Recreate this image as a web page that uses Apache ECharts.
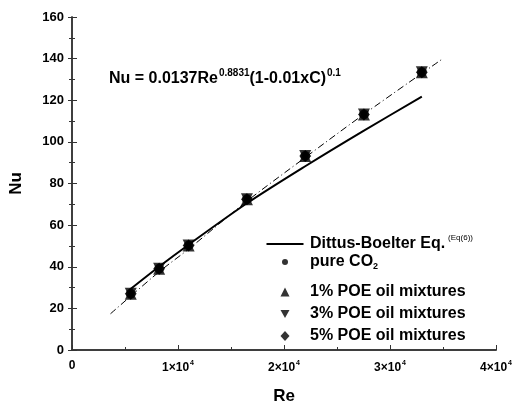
<!DOCTYPE html>
<html>
<head>
<meta charset="UTF-8">
<title>Nu vs Re</title>
<style>
  html, body { margin: 0; padding: 0; background: #fff; }
  #chart { width: 515px; height: 410px; }
</style>
<script src="https://cdn.jsdelivr.net/npm/echarts@6/dist/echarts.min.js"></script>
</head>
<body>
<div id="chart"></div>
<script>
// measured points (the four series overlap on the picture)
var expRe = [5540, 8220, 11000, 16500, 22000, 27540, 33000];
var nuPure = [27.0, 39.0, 50.2, 72.4, 93.2, 113.2, 133.4];
var nu1 = [27.0, 39.0, 50.2, 72.4, 93.2, 113.2, 133.4];
var nu3 = [27.0, 39.0, 50.2, 72.4, 93.2, 113.2, 133.4];
var nu5 = [27.0, 39.0, 50.2, 72.4, 93.2, 113.2, 133.4];

// Dittus-Boelter Eq. (6), solid line
var dbRe = [5400, 8200, 11000, 16500, 22000, 27500, 33000];
var dbNu = [28.8, 40.0, 50.6, 70.5, 88.3, 105.3, 121.7];

// correlation, dash-dot line
var fitRe = [3630, 8200, 11000, 16500, 22000, 27540, 34900];
var fitNu = [17.4, 37.5, 48.5, 71.5, 92.5, 113.3, 139.7];

var xTicks = [0, 10000, 20000, 30000, 40000];
var yTicks = [0, 20, 40, 60, 80, 100, 120, 140, 160];

var names = ['Dittus-Boelter Eq.', 'pure CO2', '1% POE oil mixtures', '3% POE oil mixtures', '5% POE oil mixtures'];

function pairs(xs, ys) {
  return xs.map(function (x, i) { return [x, ys[i]]; });
}

var font = 'Liberation Sans, Arial, sans-serif';
var ink = '#000';
var axisLine = { show: true, lineStyle: { color: '#333', width: 1.5 } };

var chart = echarts.init(document.getElementById('chart'));

function legendText(name) {
  if (name === names[0]) return '{t|Dittus-Boelter Eq.}{sup|(Eq(6))}';
  if (name === names[1]) return '{t|pure CO}{sub|2}';
  return '{t|' + name + '}';
}
// one legend per row so each row sits where it does on the picture;
// icons are centred on x=285 and the texts start at x=310
function oneLegend(name, icon, w, h, top) {
  return {
    data: [{ name: name, icon: icon }],
    left: 285 - w / 2, top: top, padding: 0,
    itemWidth: w, itemHeight: h,
    selectedMode: false,
    formatter: legendText,
    textStyle: {
      rich: {
        t: { fontSize: 16, fontWeight: 'bold', fontFamily: font, color: ink, padding: [0, 0, 0, 20 - w / 2] },
        sup: { fontSize: 8, fontFamily: font, color: ink, padding: [0, 0, 12, 3] },
        sub: { fontSize: 9, fontWeight: 'bold', fontFamily: font, color: ink, padding: [10, 0, 0, 0] }
      }
    }
  };
}

var option = {
  animation: false,
  grid: { left: 65, right: 17, top: 17, bottom: 57 },
  title: {
    text: '{m|Nu = 0.0137Re}{s|0.8831}{m|(1-0.01xC)}{s|0.1}',
    left: 104, top: 63,
    textStyle: {
      rich: {
        m: { fontSize: 16, fontWeight: 'bold', fontFamily: font, color: ink },
        s: { fontSize: 10, fontFamily: font, color: ink, padding: [0, 0, 12, 1] }
      }
    }
  },
  legend: [
    oneLegend(names[0], 'path://M0,0H37V2H0Z', 37, 2, 234),
    oneLegend(names[1], 'circle', 6, 6, 254),
    oneLegend(names[2], 'triangle', 9, 9, 284),
    oneLegend(names[3], 'path://M0,0L10,0L5,9Z', 9, 9, 306),
    oneLegend(names[4], 'diamond', 9, 10, 328)
  ],
  xAxis: [{
    type: 'value', min: xTicks[0], max: xTicks[xTicks.length - 1], interval: 10000,
    name: 'Re', nameLocation: 'middle', nameGap: 38,
    nameTextStyle: { fontSize: 17, fontWeight: 'bold', fontFamily: font, color: ink },
    axisLine: axisLine,
    axisTick: { inside: true, length: 5, lineStyle: { color: '#333' } },
    minorTick: { show: true, splitNumber: 2, length: 3, lineStyle: { color: '#333' } },
    splitLine: { show: false },
    axisLabel: {
      margin: 10,
      formatter: function (v) {
        return v === 0 ? '{m|0}' : '{m|' + (v / 10000) + '×10}{s|4}';
      },
      rich: {
        m: { fontSize: 12, fontWeight: 'bold', fontFamily: font, color: ink },
        s: { fontSize: 7, fontWeight: 'bold', fontFamily: font, color: ink, padding: [0, 0, 8, 1] }
      }
    }
  }, {
    type: 'value', position: 'top', min: xTicks[0], max: xTicks[xTicks.length - 1], interval: 10000,
    axisLine: axisLine, axisTick: { show: false }, axisLabel: { show: false }, splitLine: { show: false }
  }],
  yAxis: [{
    type: 'value', min: yTicks[0], max: yTicks[yTicks.length - 1], interval: 20,
    name: 'Nu', nameLocation: 'middle', nameGap: 47,
    nameTextStyle: { fontSize: 17, fontWeight: 'bold', fontFamily: font, color: ink },
    axisLine: axisLine,
    axisTick: { inside: true, length: 5, lineStyle: { color: '#333' } },
    minorTick: { show: true, splitNumber: 2, length: 3, lineStyle: { color: '#333' } },
    splitLine: { show: false },
    axisLabel: { margin: 8, fontSize: 13, fontWeight: 'bold', fontFamily: font, color: ink }
  }, {
    type: 'value', position: 'right', min: yTicks[0], max: yTicks[yTicks.length - 1], interval: 20,
    axisLine: axisLine,
    axisTick: { inside: true, length: 4, lineStyle: { color: '#333' } },
    minorTick: { show: true, splitNumber: 2, length: 3, lineStyle: { color: '#333' } },
    axisLabel: { show: false }, splitLine: { show: false }
  }],
  series: [
    {
      name: names[0], type: 'line', data: pairs(dbRe, dbNu), symbol: 'none', smooth: 0.3,
      lineStyle: { color: ink, width: 2 }, itemStyle: { color: ink }
    },
    {
      name: 'fit', type: 'line', data: pairs(fitRe, fitNu), symbol: 'none', smooth: 0.3,
      lineStyle: { color: ink, width: 1, type: [7, 3, 1, 3] }
    },
    { name: names[1], type: 'scatter', data: pairs(expRe, nuPure), symbol: 'circle', symbolSize: 10, itemStyle: { color: ink } },
    { name: names[2], type: 'scatter', data: pairs(expRe, nu1), symbol: 'triangle', symbolSize: 12, itemStyle: { color: ink } },
    { name: names[3], type: 'scatter', data: pairs(expRe, nu3), symbol: 'triangle', symbolRotate: 180, symbolSize: 12, itemStyle: { color: ink } },
    { name: names[4], type: 'scatter', data: pairs(expRe, nu5), symbol: 'diamond', symbolSize: 12, itemStyle: { color: ink } }
  ]
};

chart.setOption(option);
</script>
</body>
</html>
